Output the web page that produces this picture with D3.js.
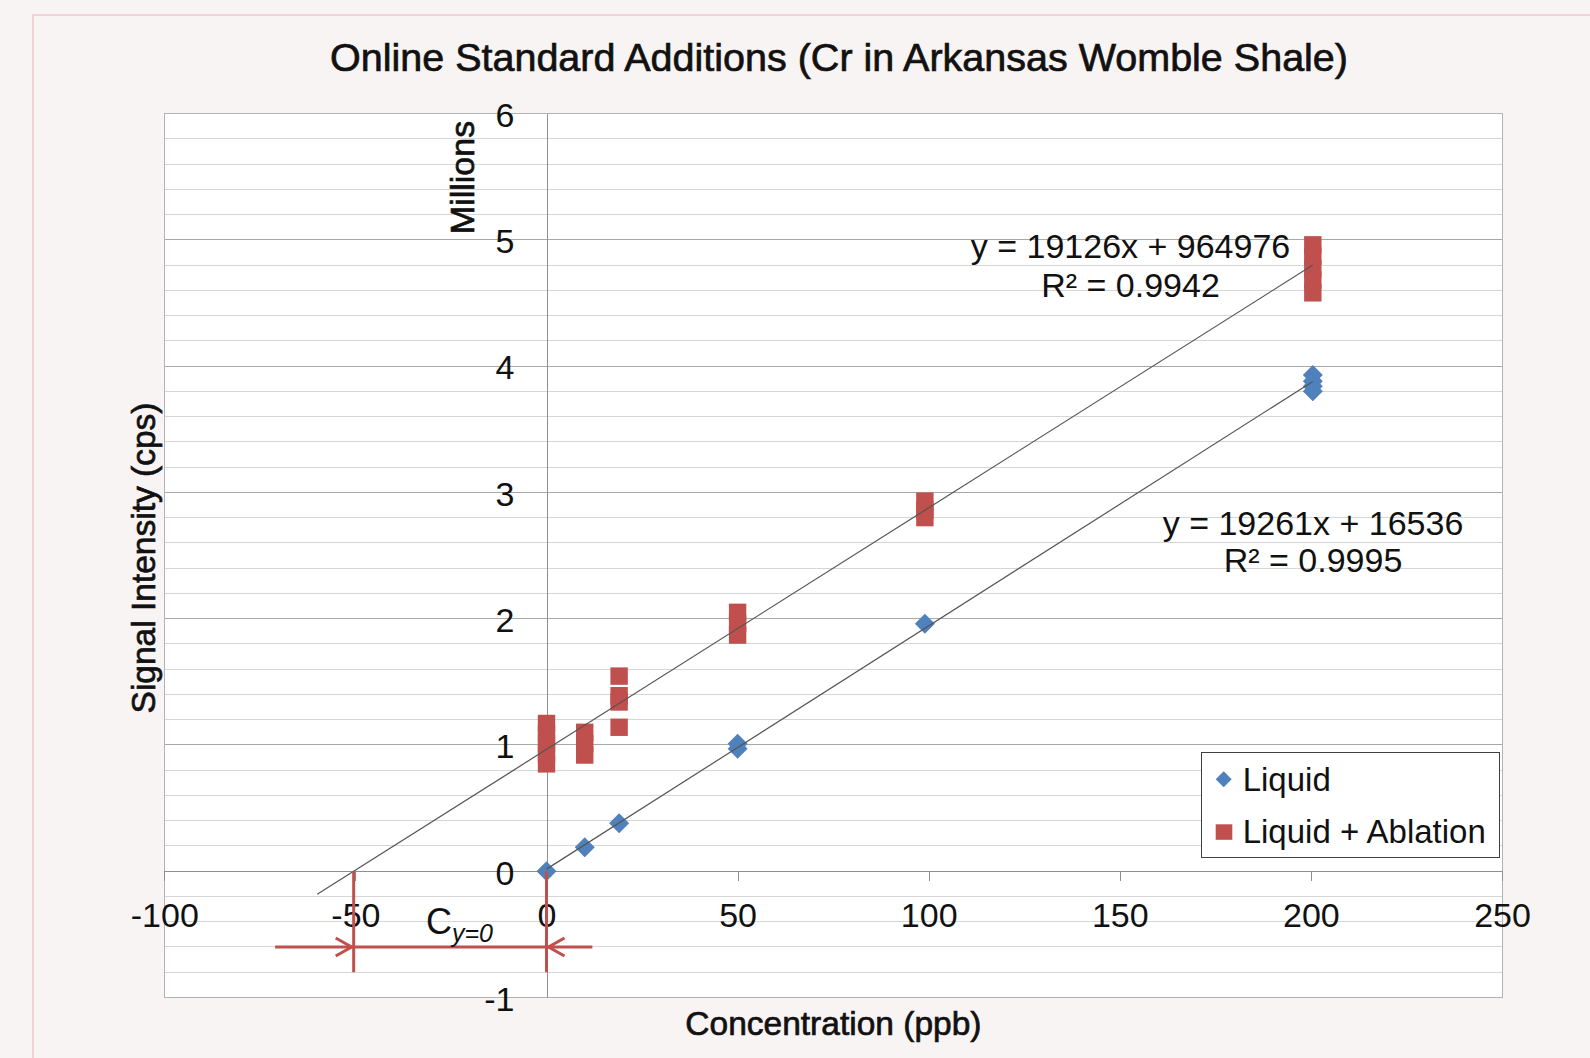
<!DOCTYPE html>
<html>
<head>
<meta charset="utf-8">
<script src="https://cdnjs.cloudflare.com/ajax/libs/d3/7.8.5/d3.min.js"></script>
<style>
    body { margin: 0; background: #f9f4f4; }
    svg { display: block; font-family: "Liberation Sans", Arial, sans-serif; }
</style>
</head>
<body>
<div id="chart"></div>
<script>
// concentration (ppb) / signal (millions cps)
const liquidX = [0, 10, 19, 50, 50, 99, 200.5, 200.5, 200.5, 200.5];
const liquidY = [0, 0.19, 0.38, 1.01, 0.97, 1.96, 3.93, 3.88, 3.84, 3.80];

const ablationX = [0, 0, 0, 0, 0, 10, 10, 10, 19, 19, 19, 19, 50, 50, 50, 99, 99, 99, 200.5, 200.5, 200.5, 200.5, 200.5];
const ablationY = [1.17, 1.09, 1.01, 0.93, 0.85, 1.10, 1.01, 0.92, 1.545, 1.39, 1.34, 1.14, 2.05, 1.96, 1.87, 2.93, 2.86, 2.80, 4.96, 4.87, 4.77, 4.68, 4.58];

// linear trendlines (cps = slope * ppb + intercept)
const fitSlope = [19261, 19126];
const fitIntercept = [16536, 964976];
const fitFrom = [0, -60];
const fitTo = [200.5, 200.5];
const fitEquation = [`y = 19261x + 16536`, `y = 19126x + 964976`];
const fitR2 = [`R² = 0.9995`, `R² = 0.9942`];

const seriesNames = [`Liquid`, `Liquid + Ablation`];
const seriesColors = [`#4f81bd`, `#c0504d`];

const xTicks = [-100, -50, 0, 50, 100, 150, 200, 250];
const xTickLabels = [`-100`, `-50`, `0`, `50`, `100`, `150`, `200`, `250`];
const yTicks = [-1, 0, 1, 2, 3, 4, 5, 6];
const yTickLabels = [`-1`, `0`, `1`, `2`, `3`, `4`, `5`, `6`];

// C(y=0) bracket: arrow span in ppb, drawn at this signal level
const bracketX = [-71, 12];
const bracketY = -0.6;
const bracketDrop = -0.8;

class ChartService {
    constructor(argz = {}) { }

    drawChart(elementsId, svgParams = {}) {
        let svg, width, height, g, x, y;
        const m = svgParams.margin;

        svg = d3.select(`#${elementsId}`).append(`svg`)
            .attr(`width`, svgParams.width)
            .attr(`height`, svgParams.height);

        width = svgParams.width - m.left - m.right;
        height = svgParams.height - m.top - m.bottom;

        // slide frame
        svg.append(`path`)
            .attr(`d`, `M33,${svgParams.height} V15 H${svgParams.width}`)
            .attr(`fill`, `none`)
            .attr(`stroke`, `#f0c6c6`)
            .attr(`stroke-width`, 1.5);

        g = svg.append(`g`)
            .attr(`transform`, `translate(` + m.left + `,` + m.top + `)`);

        x = d3.scaleLinear().domain([-100, 250]).range([0, width]);
        y = d3.scaleLinear().domain([-1, 6]).range([height, 0]);

        g.append(`rect`)
            .attr(`width`, width)
            .attr(`height`, height)
            .attr(`fill`, `#fff`);

        // gridlines
        const minor = y.ticks(35).filter(d => Math.abs(d - Math.round(d)) > 1e-6);
        g.selectAll(`.minor`)
            .data(minor)
            .enter().append(`line`)
            .attr(`class`, `minor`)
            .attr(`x1`, 0).attr(`x2`, width)
            .attr(`y1`, d => y(d)).attr(`y2`, d => y(d))
            .attr(`stroke`, `#d6d6d6`)
            .attr(`shape-rendering`, `crispEdges`);

        g.selectAll(`.major`)
            .data(yTicks)
            .enter().append(`line`)
            .attr(`class`, `major`)
            .attr(`x1`, 0).attr(`x2`, width)
            .attr(`y1`, d => y(d)).attr(`y2`, d => y(d))
            .attr(`stroke`, `#a9a9a9`)
            .attr(`shape-rendering`, `crispEdges`);

        g.append(`rect`)
            .attr(`width`, width)
            .attr(`height`, height)
            .attr(`fill`, `none`)
            .attr(`stroke`, `#b3b3b3`)
            .attr(`shape-rendering`, `crispEdges`);

        // axes through the origin
        const gx = g.append(`g`)
            .attr(`transform`, `translate(0,` + y(0) + `)`)
            .call(d3.axisBottom(x)
                .tickValues(xTicks)
                .tickFormat((d, i) => xTickLabels[i])
                .tickSize(10)
                .tickSizeOuter(0)
                .tickPadding(22));

        const gy = g.append(`g`)
            .attr(`transform`, `translate(` + x(0) + `,0)`)
            .call(d3.axisLeft(y)
                .tickValues(yTicks)
                .tickFormat((d, i) => yTickLabels[i])
                .tickSize(0)
                .tickSizeOuter(0)
                .tickPadding(32));

        [gx, gy].forEach(a => {
            a.attr(`font-family`, null).attr(`font-size`, null);
            a.selectAll(`.domain, line`).attr(`stroke`, `#8f8f8f`).attr(`shape-rendering`, `crispEdges`);
            a.selectAll(`text`).attr(`font-size`, 34).attr(`fill`, `#111`);
        });
        gy.selectAll(`text`).attr(`dy`, `0.38em`);

        // markers
        const diamond = `M0,-10L10,0L0,10L-10,0Z`;
        g.selectAll(`.liquid`)
            .data(liquidX)
            .enter().append(`path`)
            .attr(`class`, `liquid`)
            .attr(`d`, diamond)
            .attr(`transform`, (d, i) => `translate(` + x(d) + `,` + y(liquidY[i]) + `)`)
            .attr(`fill`, seriesColors[0]);

        g.selectAll(`.ablation`)
            .data(ablationX)
            .enter().append(`rect`)
            .attr(`class`, `ablation`)
            .attr(`x`, d => x(d) - 8.7)
            .attr(`y`, (d, i) => y(ablationY[i]) - 8.7)
            .attr(`width`, 17.4)
            .attr(`height`, 17.4)
            .attr(`fill`, seriesColors[1]);

        // trendlines
        const fitLine = d3.line().x(d => x(d[0])).y(d => y(d[1]));
        g.selectAll(`.fit`)
            .data(fitSlope)
            .enter().append(`path`)
            .attr(`class`, `fit`)
            .attr(`d`, (d, i) => fitLine([fitFrom[i], fitTo[i]].map(c => [c, (d * c + fitIntercept[i]) / 1e6])))
            .attr(`fill`, `none`)
            .attr(`stroke`, `#555`)
            .attr(`stroke-width`, 1.2);

        // equation labels
        const eqPos = [[1313, 535, 571.7], [1130.5, 258.3, 297.3]];
        eqPos.forEach((p, i) => {
            svg.append(`text`).attr(`x`, p[0]).attr(`y`, p[1])
                .attr(`text-anchor`, `middle`).attr(`font-size`, 34).attr(`fill`, `#111`)
                .text(fitEquation[i]);
            svg.append(`text`).attr(`x`, p[0]).attr(`y`, p[2])
                .attr(`text-anchor`, `middle`).attr(`font-size`, 34).attr(`fill`, `#111`)
                .text(fitR2[i]);
        });

        // C(y=0) bracket
        const red = seriesColors[1];
        const xIntercept = -fitIntercept[1] / fitSlope[1];
        const ann = g.append(`g`)
            .attr(`stroke`, red)
            .attr(`stroke-width`, 3)
            .attr(`fill`, `none`);
        [xIntercept, 0].forEach(v => {
            ann.append(`line`)
                .attr(`x1`, x(v)).attr(`x2`, x(v))
                .attr(`y1`, y(0)).attr(`y2`, y(bracketDrop));
        });
        ann.append(`line`)
            .attr(`x1`, x(bracketX[0])).attr(`x2`, x(bracketX[1]))
            .attr(`y1`, y(bracketY)).attr(`y2`, y(bracketY));
        const ay = y(bracketY);
        ann.append(`path`)
            .attr(`d`, `M${x(xIntercept) - 18},${ay - 9} L${x(xIntercept) - 2},${ay} L${x(xIntercept) - 18},${ay + 9}`);
        ann.append(`path`)
            .attr(`d`, `M${x(0) + 18},${ay - 9} L${x(0) + 2},${ay} L${x(0) + 18},${ay + 9}`);

        const cLabel = svg.append(`text`)
            .attr(`x`, 426).attr(`y`, 934)
            .attr(`font-size`, 36).attr(`fill`, `#111`);
        cLabel.append(`tspan`).text(`C`);
        cLabel.append(`tspan`)
            .attr(`dy`, 8).attr(`font-size`, 25).attr(`font-style`, `italic`)
            .text(`y=0`);

        // legend
        const lg = svg.append(`g`).attr(`transform`, `translate(1201,752)`);
        lg.append(`rect`)
            .attr(`width`, 298).attr(`height`, 105)
            .attr(`fill`, `#fff`).attr(`stroke`, `#404040`)
            .attr(`shape-rendering`, `crispEdges`);
        lg.append(`path`)
            .attr(`d`, `M0,-8L8,0L0,8L-8,0Z`)
            .attr(`transform`, `translate(22.7,27.3)`)
            .attr(`fill`, seriesColors[0]);
        lg.append(`rect`)
            .attr(`x`, 14.7).attr(`y`, 72.3).attr(`width`, 16.6).attr(`height`, 15.5)
            .attr(`fill`, seriesColors[1]);
        lg.selectAll(`.lgText`)
            .data(seriesNames)
            .enter().append(`text`)
            .attr(`class`, `lgText`)
            .attr(`x`, 41.7)
            .attr(`y`, (d, i) => 38.7 + i * 52)
            .attr(`font-size`, 33)
            .attr(`fill`, `#111`)
            .text(d => d);

        // titles
        const heavy = sel => sel.attr(`fill`, `#111`).attr(`stroke`, `#111`).attr(`stroke-width`, 0.7);
        svg.append(`text`)
            .attr(`x`, 839).attr(`y`, 71)
            .attr(`text-anchor`, `middle`).attr(`font-size`, 39.5)
            .call(heavy)
            .text(`Online Standard Additions (Cr in Arkansas Womble Shale)`);
        svg.append(`text`)
            .attr(`x`, 833.4).attr(`y`, 1035)
            .attr(`text-anchor`, `middle`).attr(`font-size`, 33.5)
            .call(heavy)
            .text(`Concentration (ppb)`);
        svg.append(`text`)
            .attr(`transform`, `translate(155,558) rotate(-90)`)
            .attr(`text-anchor`, `middle`).attr(`font-size`, 33.5)
            .call(heavy)
            .text(`Signal Intensity (cps)`);
        svg.append(`text`)
            .attr(`transform`, `translate(474,177.5) rotate(-90)`)
            .attr(`text-anchor`, `middle`).attr(`font-size`, 34)
            .call(heavy)
            .text(`Millions`);
    }

    static create(argz) {
        return new ChartService(argz);
    }
}

ChartService.create().drawChart(`chart`, {
    width: 1590,
    height: 1058,
    margin: { top: 113.5, right: 88, bottom: 60.5, left: 164.3 }
});
</script>
</body>
</html>
